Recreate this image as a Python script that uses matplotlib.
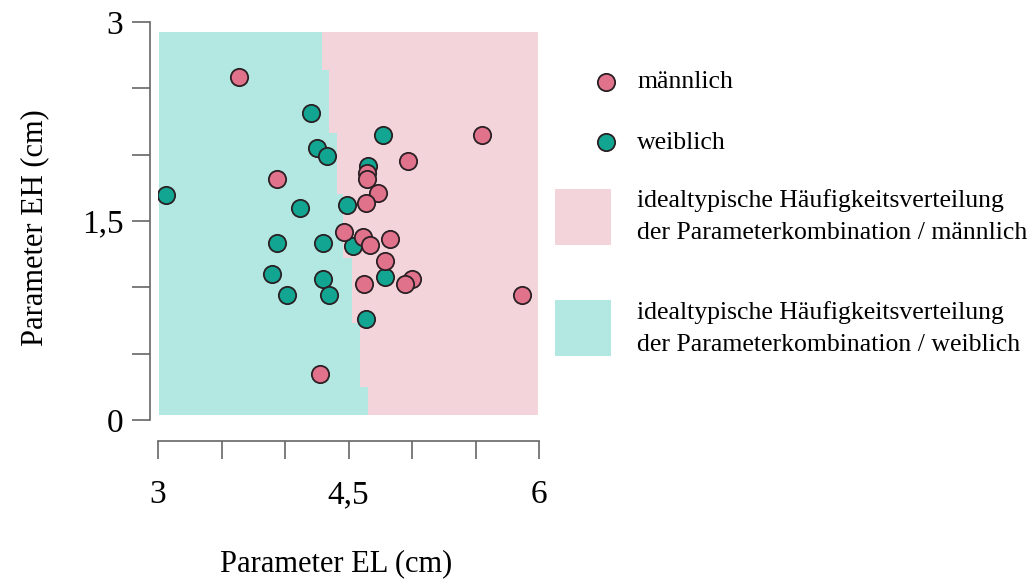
import matplotlib
matplotlib.use("Agg")
import matplotlib.pyplot as plt
from matplotlib.patches import Rectangle

plt.rcParams['font.family'] = ['Liberation Serif', 'DejaVu Serif']

# measured points (EL, EH) in cm
male_el = [3.640, 3.935, 5.554, 4.971, 4.648, 4.648, 4.735, 4.638, 4.465,
           4.617, 4.673, 4.823, 4.787, 4.998, 4.943, 4.622, 5.864, 4.276]
male_eh = [2.583, 1.814, 2.148, 1.952, 1.859, 1.814, 1.713, 1.638, 1.417,
           1.381, 1.319, 1.362, 1.200, 1.063, 1.023, 1.023, 0.942, 0.347]

female_el = [4.774, 4.202, 4.254, 4.328, 4.651, 3.063, 4.118, 4.486, 3.935,
             4.297, 4.533, 3.900, 4.297, 4.013, 4.349, 4.787, 4.638]
female_eh = [2.148, 2.311, 2.052, 1.989, 1.914, 1.696, 1.600, 1.620, 1.332,
             1.332, 1.315, 1.100, 1.060, 0.942, 0.942, 1.080, 0.761]

# classification region: step boundary between the two classes
region_el = [3.01, 5.99]
region_eh = [0.038, 0.25, 0.73, 1.22, 1.70, 2.16, 2.64, 2.926]
boundary_el = [4.654, 4.591, 4.528, 4.457, 4.406, 4.346, 4.291]

x_ticks = [3, 3.5, 4, 4.5, 5, 5.5, 6]
x_labels = ['3', '', '', '4,5', '', '', '6']
y_ticks = [0, 0.5, 1, 1.5, 2, 2.5, 3]
y_labels = ['0', '', '', '1,5', '', '', '3']

pink_bg = '#f4d4db'
teal_bg = '#b3e7e1'
pink_pt = '#e0728c'
teal_pt = '#12a592'
edge = '#2a2024'

fig = plt.figure(figsize=(10.31, 5.81), dpi=100)
ax = fig.add_axes([158 / 1031, 161 / 581, 381 / 1031, 398 / 581])

bound = boundary_el + [boundary_el[-1]]
ax.fill_betweenx(region_eh, region_el[0], region_el[1], color=pink_bg, lw=0, zorder=1)
ax.fill_betweenx(region_eh, region_el[0], bound, step='post', color=teal_bg, lw=0, zorder=2)

ax.scatter(female_el, female_eh, s=155, c=teal_pt, edgecolors=edge, linewidths=1.3, zorder=3)
ax.scatter(male_el, male_eh, s=155, c=pink_pt, edgecolors=edge, linewidths=1.3, zorder=4)

ax.set_xlim(3, 6)
ax.set_ylim(0, 3)
for side in ['top', 'right']:
    ax.spines[side].set_visible(False)
ax.spines['left'].set_position(('outward', 6))
ax.spines['bottom'].set_position(('outward', 15))
ax.spines['left'].set_bounds(0, 3)
ax.spines['bottom'].set_bounds(3, 6)
for side in ['left', 'bottom']:
    ax.spines[side].set_color('#666666')
    ax.spines[side].set_linewidth(1.2)

ax.set_xticks(x_ticks)
ax.set_xticklabels(x_labels)
ax.set_yticks(y_ticks)
ax.set_yticklabels(y_labels)
ax.tick_params(axis='both', length=13, width=1.2, color='#666666', labelsize=24)
ax.tick_params(axis='x', pad=15)
ax.tick_params(axis='y', pad=6)

ax.set_xlabel('Parameter EL (cm)', fontsize=22)
ax.xaxis.set_label_coords(0.4685, -0.325)
ax.set_ylabel('Parameter EH (cm)', fontsize=22)
ax.yaxis.set_label_coords(-0.285, 0.483)

# legend drawn in pixel coordinates
lax = fig.add_axes([0, 0, 1, 1])
lax.set_xlim(0, 1031)
lax.set_ylim(581, 0)
lax.axis('off')
lax.scatter([606], [82], s=155, c=pink_pt, edgecolors=edge, linewidths=1.3)
lax.scatter([606], [142], s=155, c=teal_pt, edgecolors=edge, linewidths=1.3)
lax.add_patch(Rectangle((555, 189), 56, 56, color=pink_bg, lw=0))
lax.add_patch(Rectangle((555, 300), 56, 56, color=teal_bg, lw=0))
legend_lines = [
    (88, 'männlich'),
    (149, 'weiblich'),
    (207, 'idealtypische Häufigkeitsverteilung'),
    (239, 'der Parameterkombination / männlich'),
    (319, 'idealtypische Häufigkeitsverteilung'),
    (351, 'der Parameterkombination / weiblich'),
]
for yy, txt in legend_lines:
    lax.text(637, yy, txt, fontsize=18.5, va='baseline', ha='left')

fig.savefig('out.png', dpi=100)
